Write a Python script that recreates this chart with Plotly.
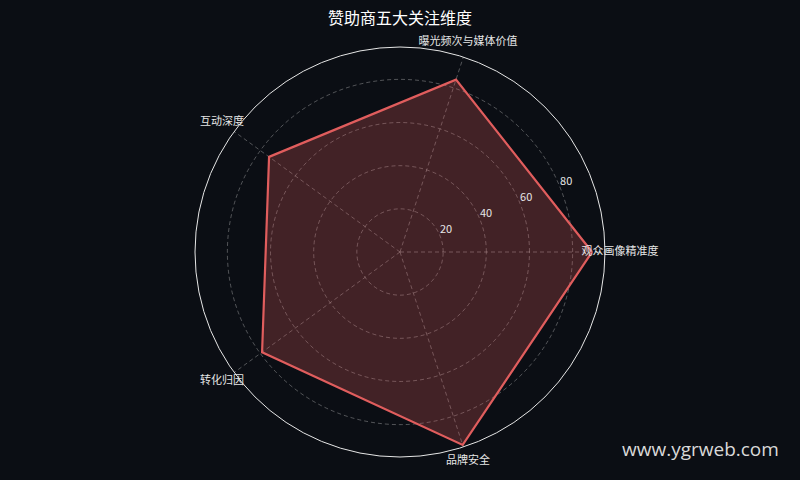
import plotly.graph_objects as go

# 维度与得分
dimensions = ["观众画像精准度", "曝光频次与媒体价值", "互动深度", "转化归因", "品牌安全"]
scores = [89, 84, 75, 79, 94]
radial_ticks = [20, 40, 60, 80]
radial_max = 95
label_r = 102

bg = "#0b0e14"
line_col = "#e05d5d"
grid_col = "rgba(200,200,200,0.38)"
cjk = "Noto Sans CJK SC"
tick_angle = 22  # 径向刻度文字所在方向（度）

# 外层 polar2 半径 225px，内层 polar 半径 205px，中心一致
outer_px, inner_px = 225, 205
label_range = radial_max * outer_px / inner_px
inner_dom = dict(x=[0, 1], y=[20 / 450, 430 / 450])

fig = go.Figure()

fig.add_trace(go.Scatterpolar(
    r=scores + scores[:1],
    theta=dimensions + dimensions[:1],
    mode="lines",
    line=dict(color=line_col, width=2.2),
    fill="toself",
    fillcolor="rgba(224,93,93,0.26)",
    hoverinfo="skip",
    showlegend=False,
))

# 维度标签：放在叠加的 polar2 上，居中于外圈之外
fig.add_trace(go.Scatterpolar(
    r=[label_r] * len(dimensions),
    theta=dimensions,
    mode="text",
    text=dimensions,
    textfont=dict(color="#e6e6e6", size=11, family=cjk),
    textposition="middle center",
    cliponaxis=False,
    hoverinfo="skip",
    showlegend=False,
    subplot="polar2",
))

# 径向刻度文字：polar3 使用数值角度轴
fig.add_trace(go.Scatterpolar(
    r=radial_ticks,
    theta=[tick_angle] * len(radial_ticks),
    mode="text",
    text=[str(v) for v in radial_ticks],
    textfont=dict(color="#e6e6e6", size=11, family=cjk),
    textposition="top right",
    cliponaxis=False,
    hoverinfo="skip",
    showlegend=False,
    subplot="polar3",
))

hidden = dict(visible=False, showgrid=False, showline=False, showticklabels=False, ticks="")

fig.update_layout(
    width=800, height=480,
    paper_bgcolor=bg, plot_bgcolor=bg,
    margin=dict(l=0, r=0, t=27, b=3),
    font=dict(family=cjk, color="#e6e6e6"),
    title=dict(text="赞助商五大关注维度", x=0.5, xanchor="center",
               y=1 - 18 / 480, yanchor="middle",
               font=dict(size=16, color="#ffffff", family=cjk)),
    polar=dict(
        bgcolor="rgba(0,0,0,0)",
        domain=inner_dom,
        radialaxis=dict(
            range=[0, radial_max], tickvals=radial_ticks,
            ticks="", showline=False, showticklabels=False,
            gridcolor=grid_col, griddash="4px,3px", gridwidth=1,
        ),
        angularaxis=dict(
            direction="counterclockwise", rotation=0,
            showline=True, linecolor="#e6e6e6", linewidth=1,
            gridcolor=grid_col, griddash="4px,3px",
            ticks="", showticklabels=False,
        ),
    ),
    polar2=dict(
        bgcolor="rgba(0,0,0,0)",
        domain=dict(x=[0, 1], y=[0, 1]),
        radialaxis=dict(range=[0, label_range], **hidden),
        angularaxis=dict(direction="counterclockwise", rotation=0,
                         categoryarray=dimensions, **hidden),
    ),
    polar3=dict(
        bgcolor="rgba(0,0,0,0)",
        domain=inner_dom,
        radialaxis=dict(range=[0, radial_max], **hidden),
        angularaxis=dict(type="linear", thetaunit="degrees",
                         direction="counterclockwise", rotation=0, **hidden),
    ),
    annotations=[dict(
        text="www.ygrweb.com", xref="paper", yref="paper",
        x=781 / 800, y=28 / 450, xanchor="right", yanchor="middle", showarrow=False,
        font=dict(size=19, color="#d9d9d9", family="Open Sans"),
    )],
)

fig.write_html("out.html", config={"displayModeBar": False},
               post_script="document.body.style.margin='0';"
               "document.body.style.background='%s';" % bg)
